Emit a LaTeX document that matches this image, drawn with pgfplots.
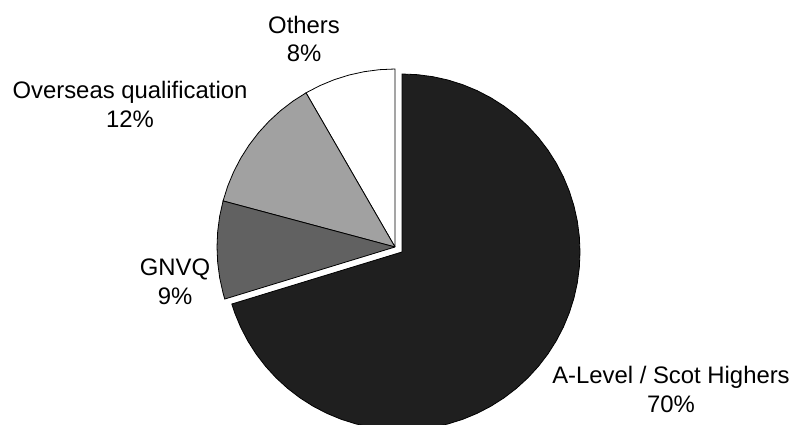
\documentclass[border=0pt]{standalone}
\usepackage{fontspec}
\setmainfont{Liberation Sans}
\usepackage{pgfplots}
\pgfplotsset{compat=1.18}

\definecolor{alevel}{gray}{0.12}
\definecolor{gnvq}{gray}{0.38}
\definecolor{overseas}{gray}{0.63}

\tikzset{lbl/.style={anchor=base, inner sep=0pt, font=\fontsize{17.9pt}{21.5pt}\selectfont}}

\begin{document}
\begin{tikzpicture}
\begin{axis}[
  scale only axis,
  width=597.75pt, height=318.75pt,
  xmin=-395, xmax=402, ymin=-178, ymax=247,
  hide axis,
  clip=true,
  data cs=polar,
  every axis plot/.append style={draw=black, line width=0.6pt, line join=miter, mark=none},
]
% slices as (angle, radius), counterclockwise from 12 o'clock
% Others 8%
\addplot[fill=white] coordinates {(0,0) (90,178) (95,178) (100,178) (105,178) (110,178) (115,178) (120,178) (0,0)};
% Overseas qualification 12%
\addplot[fill=overseas] coordinates {(0,0) (120,178) (125,178) (130,178) (135,178) (140,178) (145,178) (150,178) (155,178) (160,178) (165,178) (0,0)};
% GNVQ 9%
\addplot[fill=gnvq] coordinates {(0,0) (165,178) (170,178) (175,178) (180,178) (185,178) (190,178) (195,178) (197,178) (0,0)};
% A-Level / Scot Highers 70%, pulled out
\addplot[fill=alevel, xshift=5.25pt, yshift=-3.75pt] coordinates {(0,0) (197,178) (200,178) (205,178) (210,178) (215,178) (220,178) (225,178) (230,178) (235,178) (240,178) (245,178) (250,178) (255,178) (260,178) (265,178) (270,178) (275,178) (280,178) (285,178) (290,178) (295,178) (300,178) (305,178) (310,178) (315,178) (320,178) (325,178) (330,178) (335,178) (340,178) (345,178) (350,178) (355,178) (360,178) (365,178) (370,178) (375,178) (380,178) (385,178) (390,178) (395,178) (400,178) (405,178) (410,178) (415,178) (420,178) (425,178) (430,178) (435,178) (440,178) (445,178) (450,178) (0,0)};
\end{axis}
\begin{axis}[
  scale only axis,
  width=597.75pt, height=318.75pt,
  xmin=-395, xmax=402, ymin=-178, ymax=247,
  hide axis,
]
\node[lbl] at (axis cs:-91,213) {Others};
\node[lbl] at (axis cs:-91,185) {8\%};
\node[lbl] at (axis cs:-265,148) {Overseas qualification};
\node[lbl] at (axis cs:-265,119) {12\%};
\node[lbl] at (axis cs:-220,-29) {GNVQ};
\node[lbl] at (axis cs:-220,-58) {9\%};
\node[lbl] at (axis cs:276,-137) {A-Level / Scot Highers};
\node[lbl] at (axis cs:276,-166) {70\%};
\end{axis}
\path (current axis.south west) rectangle (current axis.north east);
\end{tikzpicture}
\end{document}
